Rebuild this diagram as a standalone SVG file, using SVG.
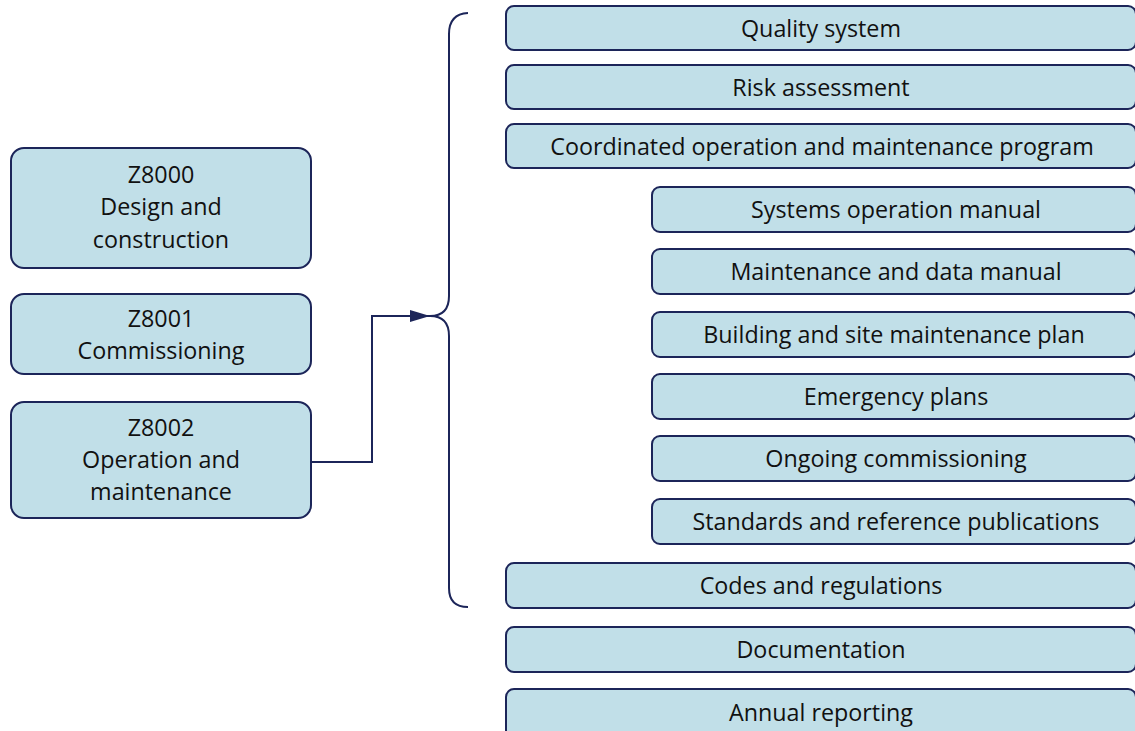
<svg xmlns="http://www.w3.org/2000/svg" width="1135" height="731" viewBox="0 0 1135 731">
<style>
.box{fill:#c1dfe8;stroke:#1c2559;stroke-width:2}
.t{font-family:"Open Sans",Lato,sans-serif;font-size:23.3px;fill:#111;text-anchor:middle}
.ln{fill:none;stroke:#1c2559;stroke-width:2}
</style>
<defs>
<marker id="ah" viewBox="0 0 20 12" refX="20" refY="6" markerWidth="20" markerHeight="12" orient="auto" markerUnits="userSpaceOnUse">
<path d="M0,0 L20,6 L0,12 z" fill="#1c2559"/>
</marker>
</defs>
<g id="z8000"><rect class="box" x="11" y="148" width="300" height="120" rx="13"/>
<text class="t" x="161" y="183">Z8000</text><text class="t" x="161" y="215">Design and</text><text class="t" x="161" y="248">construction</text></g>
<g id="z8001"><rect class="box" x="11" y="294" width="300" height="80" rx="13"/>
<text class="t" x="161" y="327">Z8001</text><text class="t" x="161" y="359">Commissioning</text></g>
<g id="z8002"><rect class="box" x="11" y="402" width="300" height="116" rx="13"/>
<text class="t" x="161" y="436">Z8002</text><text class="t" x="161" y="468">Operation and</text><text class="t" x="161" y="500">maintenance</text></g>
<g id="quality"><rect class="box" x="506" y="6" width="630" height="44" rx="8"/><text class="t" x="821" y="37">Quality system</text></g>
<g id="risk"><rect class="box" x="506" y="65" width="630" height="44" rx="8"/><text class="t" x="821" y="96">Risk assessment</text></g>
<g id="coord"><rect class="box" x="506" y="124" width="630" height="44" rx="8"/><text class="t" x="822" y="155">Coordinated operation and maintenance program</text></g>
<g id="sysop"><rect class="box" x="652" y="187" width="484" height="45" rx="8"/><text class="t" x="896" y="218">Systems operation manual</text></g>
<g id="maint"><rect class="box" x="652" y="249" width="484" height="45" rx="8"/><text class="t" x="896" y="280">Maintenance and data manual</text></g>
<g id="building"><rect class="box" x="652" y="312" width="484" height="45" rx="8"/><text class="t" x="894" y="343">Building and site maintenance plan</text></g>
<g id="emergency"><rect class="box" x="652" y="374" width="484" height="45" rx="8"/><text class="t" x="896" y="405">Emergency plans</text></g>
<g id="ongoing"><rect class="box" x="652" y="436" width="484" height="45" rx="8"/><text class="t" x="896" y="467">Ongoing commissioning</text></g>
<g id="standards"><rect class="box" x="652" y="499" width="484" height="45" rx="8"/><text class="t" x="896" y="530">Standards and reference publications</text></g>
<g id="codes"><rect class="box" x="506" y="563" width="630" height="45" rx="8"/><text class="t" x="821" y="594">Codes and regulations</text></g>
<g id="docs"><rect class="box" x="506" y="627" width="630" height="45" rx="8"/><text class="t" x="821" y="658">Documentation</text></g>
<g id="annual"><rect class="box" x="506" y="689" width="630" height="50" rx="8"/><text class="t" x="821" y="721">Annual reporting</text></g>
<g id="connectors">
<path class="ln" d="M468,13 Q449,14 449,34 L449,296 Q449,316 430,316 Q449,316 449,336 L449,588 Q449,607 468,607"/>
<path class="ln" d="M311,462 L372,462 L372,316 L430,316" marker-end="url(#ah)"/>
</g>
</svg>
